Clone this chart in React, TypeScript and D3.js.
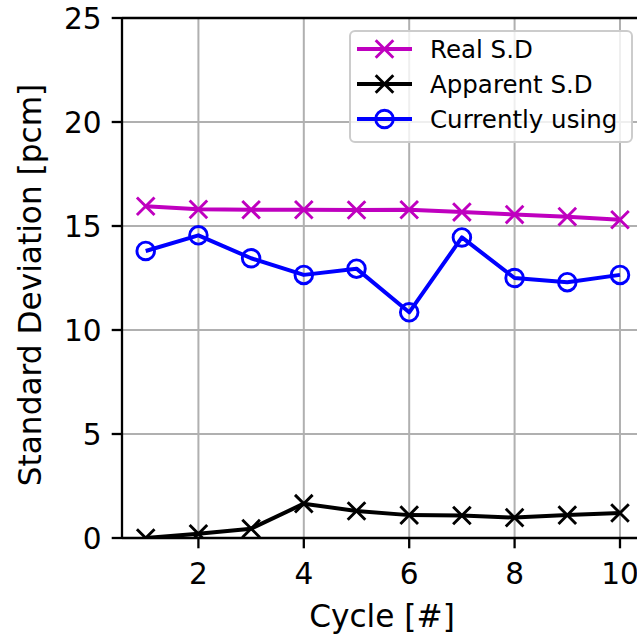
import React from 'react';
import * as d3 from 'd3';

const cycles = [1, 2, 3, 4, 5, 6, 7, 8, 9, 10];
const realSD = [15.95, 15.8, 15.78, 15.78, 15.77, 15.78, 15.67, 15.55, 15.45, 15.3];
const apparentSD = [0.0, 0.2, 0.45, 1.65, 1.3, 1.1, 1.08, 0.98, 1.1, 1.2];
const currentlyUsing = [13.8, 14.55, 13.45, 12.65, 12.95, 10.85, 14.45, 12.5, 12.3, 12.65];

const xTicks = [2, 4, 6, 8, 10];
const yTicks = [0, 5, 10, 15, 20, 25];

const seriesNames = ['Real S.D', 'Apparent S.D', 'Currently using'];
const seriesColors = ['#bf00bf', '#000000', '#0000ff'];
const seriesMarkers = ['x', 'x', 'o'];

const W = 637;
const H = 637;
const FONT = '"DejaVu Sans", sans-serif';

const App: React.FC = () => {
  /* ---------- layout ---------- */
  const left = 122;
  const right = 643.7;
  const top = 18;
  const bottom = 538;
  const tickFont = 29.6;
  const labelFont = 31.2;
  const legendFont = 24.5;
  const tickLen = 10.3;
  const ms = 8.8; // half marker size

  const x = d3.scaleLinear().domain([0.55, 10.45]).range([left, right]);
  const y = d3.scaleLinear().domain([0, 25]).range([bottom, top]);

  const allSeries = [realSD, apparentSD, currentlyUsing];

  const line = d3
    .line<number>()
    .x((_, i) => x(cycles[i]))
    .y(d => y(d));

  const marker = (kind: string, cx: number, cy: number, color: string, key: string) =>
    kind === 'x' ? (
      <path
        key={key}
        d={`M${cx - ms},${cy - ms}L${cx + ms},${cy + ms}M${cx - ms},${cy + ms}L${cx + ms},${cy - ms}`}
        stroke={color}
        strokeWidth={2.9}
        fill="none"
      />
    ) : (
      <circle key={key} cx={cx} cy={cy} r={ms} stroke={color} strokeWidth={2.9} fill="none" />
    );

  /* ---------- legend ---------- */
  const legX = 350;
  const legY = 31;
  const legW = 282;
  const legH = 111;
  const rowY = [49, 84, 119];

  return (
    <svg
      width={W}
      height={H}
      style={{ position: 'absolute', left: 0, top: 0, background: '#fff' }}
      fontFamily={FONT}
    >
      <defs>
        <clipPath id="plot-clip">
          <rect x={left} y={top} width={right - left} height={bottom - top} />
        </clipPath>
      </defs>

      {/* grid */}
      <g stroke="#b0b0b0" strokeWidth={2}>
        {xTicks.map(t => (
          <line key={`gx${t}`} x1={x(t)} x2={x(t)} y1={top} y2={bottom} />
        ))}
        {yTicks.map(t => (
          <line key={`gy${t}`} x1={left} x2={right} y1={y(t)} y2={y(t)} />
        ))}
      </g>

      {/* series */}
      <g clipPath="url(#plot-clip)">
        {allSeries.map((s, si) => (
          <g key={seriesNames[si]}>
            <path d={line(s) ?? ''} fill="none" stroke={seriesColors[si]} strokeWidth={4} strokeLinejoin="round" />
            {s.map((v, i) => marker(seriesMarkers[si], x(cycles[i]), y(v), seriesColors[si], `${si}-${i}`))}
          </g>
        ))}
      </g>

      {/* spines */}
      <g stroke="#000" strokeWidth={2.3} fill="none">
        <line x1={left} x2={left} y1={top} y2={bottom} />
        <line x1={left} x2={right} y1={bottom} y2={bottom} />
        <line x1={left} x2={right} y1={top} y2={top} />
      </g>

      {/* y ticks */}
      {yTicks.map(t => (
        <g key={`yt${t}`}>
          <line x1={left - tickLen} x2={left} y1={y(t)} y2={y(t)} stroke="#000" strokeWidth={2.3} />
          <text
            x={left - tickLen - 10}
            y={y(t)}
            dy="0.36em"
            textAnchor="end"
            fontSize={tickFont}
            fill="#000"
          >
            {t}
          </text>
        </g>
      ))}

      {/* x ticks */}
      {xTicks.map(t => (
        <g key={`xt${t}`}>
          <line x1={x(t)} x2={x(t)} y1={bottom} y2={bottom + tickLen} stroke="#000" strokeWidth={2.3} />
          <text x={x(t)} y={584} textAnchor="middle" fontSize={tickFont} fill="#000">
            {t}
          </text>
        </g>
      ))}

      {/* axis labels */}
      <text x={382} y={627} textAnchor="middle" fontSize={labelFont} fill="#000">
        Cycle [#]
      </text>
      <text
        transform="translate(41,285) rotate(-90)"
        textAnchor="middle"
        fontSize={labelFont}
        fill="#000"
      >
        Standard Deviation [pcm]
      </text>

      {/* legend */}
      <rect
        x={legX}
        y={legY}
        width={legW}
        height={legH}
        rx={5}
        fill="#fff"
        fillOpacity={0.8}
        stroke="#cccccc"
        strokeWidth={2}
      />
      {seriesNames.map((name, i) => (
        <g key={`leg${i}`}>
          <line x1={357} x2={412} y1={rowY[i]} y2={rowY[i]} stroke={seriesColors[i]} strokeWidth={4} />
          {marker(seriesMarkers[i], 384.5, rowY[i], seriesColors[i], `lm${i}`)}
          <text x={430} y={rowY[i] + 9} fontSize={legendFont} fill="#000">
            {name}
          </text>
        </g>
      ))}
    </svg>
  );
};

export default App;
